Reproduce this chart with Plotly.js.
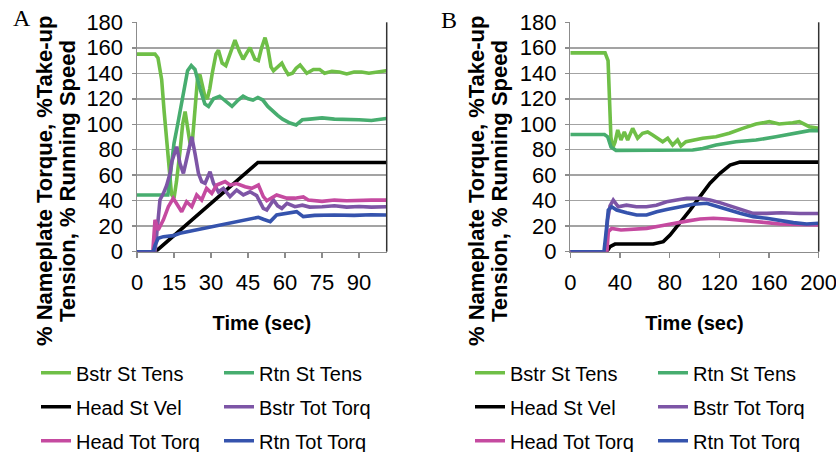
<!DOCTYPE html>
<html>
<head>
<meta charset="utf-8">
<script src="https://cdn.plot.ly/plotly-3.0.1.min.js"></script>
<style>html,body{margin:0;padding:0;background:#fff;}#chart{width:836px;height:452px;}</style>
</head>
<body>
<div id="chart"></div>
<script>
// ---------- Series names and colours ----------
const seriesNames = ["Bstr St Tens", "Rtn St Tens", "Head St Vel", "Bstr Tot Torq", "Head Tot Torq", "Rtn Tot Torq"];
const seriesColors = ["#6fbf47", "#47ad6f", "#000000", "#7d55a6", "#c54aa0", "#3553ad"];

// ---------- Panel A (time in sec, values in %) ----------
const aBstrStT = [0,7.3,8.5,10,11,12,13,14,15,16,17.5,18.5,19.5,20.5,21.5,22.5,23.5,24.5,25.5,26.5,27.5,28.5,29.5,30.5,32,33,34.5,36,38,39.7,41.5,43,44.5,45.8,47.8,49.2,50.5,51.9,53,54.3,55.3,57,58.7,60,61.3,63,64.5,66.1,67.5,68.8,71.5,74,76,79,82,85,88,91,94,97,101];
const aBstrStV = [155,155,152,135,110,88,65,45,42,55,80,100,110,95,85,88,115,135,139,130,122,120,128,140,155,158,148,146,157,166,157,151,156,160,151,150,160,168,160,145,142,145,148,143,139,140,144,146.5,143,140,143,143,140,141.5,141,139.5,141,141,140,141,142];

const aRtnStT = [0,12.5,13.5,15,16.5,18.5,20.5,22,23.5,25.5,27.5,29,31,33.5,36,38.5,41,43,45,47,49,51,53,55,57,59,62,64.5,67,70,75,80,85,90,95,98,101];
const aRtnStV = [44.5,44.5,60,85,100,120,142,146,143,128,116,114,120,122,118,114,119,122,120,119,121,119,114,110,107,104,101,99.5,103.5,104,105,104,104,103.5,103,104,104.5];

const aHeadVelT = [0,7.5,49,101];
const aHeadVelV = [0,0,70,70];

const aBstrTorqT = [0,7.3,8.6,9.3,10.7,12,13.4,14.1,16.1,17.4,18.8,20.1,22.2,23.5,24.9,26.2,27.6,29.6,31,33,35,37.7,40.4,43.1,45.8,48.5,51.2,52.6,55.3,57,58.7,60.8,62,64,67,70,75,80,85,90,95,101];
const aBstrTorqV = [0,0,26,40.6,45.8,52,61.5,70.6,82.4,69.4,61.5,72,90.2,77.2,61.5,55,53.7,62.8,53.7,47,49.7,43.2,48.4,44.5,47,44,34,32.7,40.6,36,34,38,36.8,35.3,36.5,35,35.3,36,35,35.5,35,35.3];

const aHeadTorqT = [0,6.4,7.3,8.6,10.7,12.7,14.7,16.5,18.1,20.1,22.2,24.2,26.2,28.2,30.3,32.3,35.7,37.7,40.4,43.8,46.5,49.2,51.2,52.6,56.6,60.7,64,67.4,69.4,75,80,85,90,95,101];
const aHeadTorqV = [0,0,25,17,25,35.3,41.9,36,31.4,39.2,35.3,44.5,40.6,49.7,45.8,52.3,55,52.3,53.5,51,49.7,52.3,43.2,40,44.5,42,42,43,40.5,39.5,40.5,40,40.5,40.5,40.5];

const aRtnTorqT = [0,6.6,7.3,8.6,10.7,14.7,17.4,24.2,31,37.7,44.5,49.2,51.2,54,56.6,60.7,64.7,67.4,72,80,88,95,101];
const aRtnTorqV = [0,0,5,10.5,11.8,12.6,14.4,17,19.6,22.3,24.9,27,25.5,23.6,28.8,30,31.4,27.5,28.5,28.8,28.5,29,28.8];

// ---------- Panel B ----------
const bBstrStT = [0,28,30.4,31.5,32.7,34,36,38.2,40.8,43.5,46.2,50.2,54.2,58.2,62.3,66.3,70.3,74.4,78.4,82.4,86.4,89.1,93.1,98.4,106.6,117.3,128,138.8,149.5,160.2,168.2,179,184.4,192.4,200];
const bBstrStV = [156,156,150,120,90,81,86,95.5,87.6,94,87.6,96.8,89,92.9,94,91.6,89,86.3,89,83.7,87.6,83,86.3,87.6,89,90.2,92.9,96.8,100.2,102,100.2,101.2,102,98.1,96.8];

const bRtnStT = [0,27.5,30.1,32.8,36.8,60,98.5,106.6,117.3,133.4,149.5,165.6,181.7,192.4,200];
const bRtnStV = [92,92,90.2,82,79.5,79.5,79.8,81,83.7,86.3,87.6,90.2,92.9,95,95];

const bHeadVelT = [0,29.3,32,36,66.8,74.9,80.3,88.3,96.4,104.4,112.5,120.5,128.6,136.6,200];
const bHeadVelV = [0,0,3.9,6,6,7.9,13,22.3,32.7,43.2,53.7,61.5,68,70.3,70.3];

const bBstrTorqT = [0,28,30,32,34.6,38.6,45.2,53.2,61.3,69.3,77.6,85.7,93.7,104.4,112.5,120.5,131.2,139.3,147.3,158,170,185,200];
const bBstrTorqV = [0,0,25,36,40.6,35.3,36.5,35.3,35.3,36.5,39.2,40.6,41.9,41.9,40.6,38.5,35.3,32.7,30.1,30.1,30.6,30,30];

const bHeadTorqT = [0,29.5,30.6,33.3,40.8,53.5,61.5,72.2,82.9,93.7,104.4,115.2,125.9,136.6,147.3,158,168.8,179.6,190.3,200];
const bHeadTorqV = [0,0,15.7,18.3,17,17.6,18.3,20.2,22.3,24,25.6,26.2,25.6,24.9,23.6,22.8,21.7,21.5,21.2,21];

const bRtnTorqT = [0,27.1,28.7,30.6,33.3,37.3,45.4,53.4,61.4,69.6,77.6,88.3,99,109.8,117.9,125.9,136.6,147.3,158,168.8,179.6,190.3,200];
const bRtnTorqV = [0,0,14.4,32.7,35.3,32.7,30.6,28.8,28.8,31.4,33.2,35.3,37.2,38,35.9,33.3,30.1,27.5,26.2,24.3,22.8,21.7,22.3];

// ---------- Axis labels ----------
const panelLabels = ["A", "B"];
const xTitle = "Time (sec)";
const yTitleLine1 = "% Nameplate Torque, %Take-up";
const yTitleLine2 = "Tension, % Running Speed";
const yTicks = [0,20,40,60,80,100,120,140,160,180];
const xTicksA = [0,15,30,45,60,75,90];
const xTicksB = [0,40,80,120,160,200];

// ---------- Build ----------
const W = 836, H = 452;
const fx = px => px / W;
const fy = py => 1 - py / H;
const FONT = "Liberation Sans, Arial, Helvetica, sans-serif";

const panelA = [[aBstrStT,aBstrStV],[aRtnStT,aRtnStV],[aHeadVelT,aHeadVelV],[aBstrTorqT,aBstrTorqV],[aHeadTorqT,aHeadTorqV],[aRtnTorqT,aRtnTorqV]];
const panelB = [[bBstrStT,bBstrStV],[bRtnStT,bRtnStV],[bHeadVelT,bHeadVelV],[bBstrTorqT,bBstrTorqV],[bHeadTorqT,bHeadTorqV],[bRtnTorqT,bRtnTorqV]];

const traces = [];
function addPanel(data, xa, ya, legendBase) {
  data.forEach((d, i) => {
    const row = Math.floor(i / 2);
    const legId = legendBase + row;
    traces.push({
      type: "scatter", mode: "lines",
      x: d[0], y: d[1], name: seriesNames[i],
      xaxis: xa, yaxis: ya,
      line: {color: seriesColors[i], width: 3.6},
      legend: legId === 1 ? "legend" : "legend" + legId,
      hoverinfo: "skip"
    });
  });
}
addPanel(panelA, "x", "y", 1);
addPanel(panelB, "x2", "y2", 4);

const rowY = [372.7, 406.7, 440.7];
const legX = [36, 470];
function legendDef(col, row) {
  return {
    x: fx(legX[col]), xanchor: "left",
    y: fy(rowY[row]), yanchor: "middle",
    orientation: "h", entrywidth: 138, entrywidthmode: "pixels",
    font: {family: FONT, size: 20, color: "#000"},
    bgcolor: "rgba(0,0,0,0)", borderwidth: 0, traceorder: "normal"
  };
}

const yDomain = [fy(251.7), fy(22.3)];
const axisCommon = {
  showline: true, linecolor: "#8c8c8c", linewidth: 1.5,
  ticks: "outside", tickcolor: "#8c8c8c", tickwidth: 1.5,
  tickfont: {family: FONT, size: 22, color: "#000"},
  ticklabeloverflow: "allow",
  zeroline: false, automargin: false, fixedrange: true
};
const xTitleObj = {text: xTitle, font: {family: FONT, size: 20, weight: "bold", color: "#000"}, standoff: 22};

const layout = {
  width: W, height: H,
  margin: {l: 0, r: 0, t: 0, b: 0, autoexpand: false},
  paper_bgcolor: "#fff", plot_bgcolor: "#fff",
  font: {family: FONT, color: "#000"},
  xaxis: Object.assign({}, axisCommon, {
    domain: [fx(137), fx(386.7)], range: [0, 101.2], anchor: "y",
    tickvals: xTicksA, ticklen: 5, ticklabelstandoff: 5, showgrid: false, title: xTitleObj
  }),
  yaxis: Object.assign({}, axisCommon, {
    domain: yDomain, range: [0, 180], anchor: "x",
    tickvals: yTicks, ticklen: 4, ticklabelstandoff: 4, showgrid: true, gridcolor: "#a3a3a3", gridwidth: 1.5
  }),
  xaxis2: Object.assign({}, axisCommon, {
    domain: [fx(570.3), fx(818.7)], range: [0, 200], anchor: "y2",
    tickvals: xTicksB, ticklen: 5, ticklabelstandoff: 5, showgrid: false, title: xTitleObj
  }),
  yaxis2: Object.assign({}, axisCommon, {
    domain: yDomain, range: [0, 180], anchor: "x2",
    tickvals: yTicks, ticklen: 4, ticklabelstandoff: 4, showgrid: true, gridcolor: "#a3a3a3", gridwidth: 1.5
  }),
  legend: legendDef(0, 0), legend2: legendDef(0, 1), legend3: legendDef(0, 2),
  legend4: legendDef(1, 0), legend5: legendDef(1, 1), legend6: legendDef(1, 2),
  shapes: [
    {type: "line", xref: "x domain", yref: "y domain", x0: 1, x1: 1, y0: 0, y1: 1, line: {color: "#333", width: 1.5}},
    {type: "line", xref: "x2 domain", yref: "y2 domain", x0: 1, x1: 1, y0: 0, y1: 1, line: {color: "#333", width: 1.5}}
  ],
  annotations: [
    {text: panelLabels[0], xref: "paper", yref: "paper", x: fx(21.5), y: fy(18), showarrow: false, xanchor: "center", yanchor: "middle",
     font: {family: "Liberation Serif, Times New Roman, serif", size: 24, color: "#000"}},
    {text: panelLabels[1], xref: "paper", yref: "paper", x: fx(448.5), y: fy(20), showarrow: false, xanchor: "center", yanchor: "middle",
     font: {family: "Liberation Serif, Times New Roman, serif", size: 24, color: "#000"}},
    {text: yTitleLine1, xref: "paper", yref: "paper", x: fx(44), y: fy(181), textangle: -90, showarrow: false, xanchor: "center", yanchor: "middle",
     font: {family: FONT, size: 22, weight: "bold", color: "#000"}},
    {text: yTitleLine2, xref: "paper", yref: "paper", x: fx(67), y: fy(181), textangle: -90, showarrow: false, xanchor: "center", yanchor: "middle",
     font: {family: FONT, size: 22, weight: "bold", color: "#000"}},
    {text: yTitleLine1, xref: "paper", yref: "paper", x: fx(476), y: fy(181), textangle: -90, showarrow: false, xanchor: "center", yanchor: "middle",
     font: {family: FONT, size: 22, weight: "bold", color: "#000"}},
    {text: yTitleLine2, xref: "paper", yref: "paper", x: fx(499), y: fy(181), textangle: -90, showarrow: false, xanchor: "center", yanchor: "middle",
     font: {family: FONT, size: 22, weight: "bold", color: "#000"}}
  ]
};

Plotly.newPlot("chart", traces, layout, {staticPlot: true, displayModeBar: false});
</script>
</body>
</html>
